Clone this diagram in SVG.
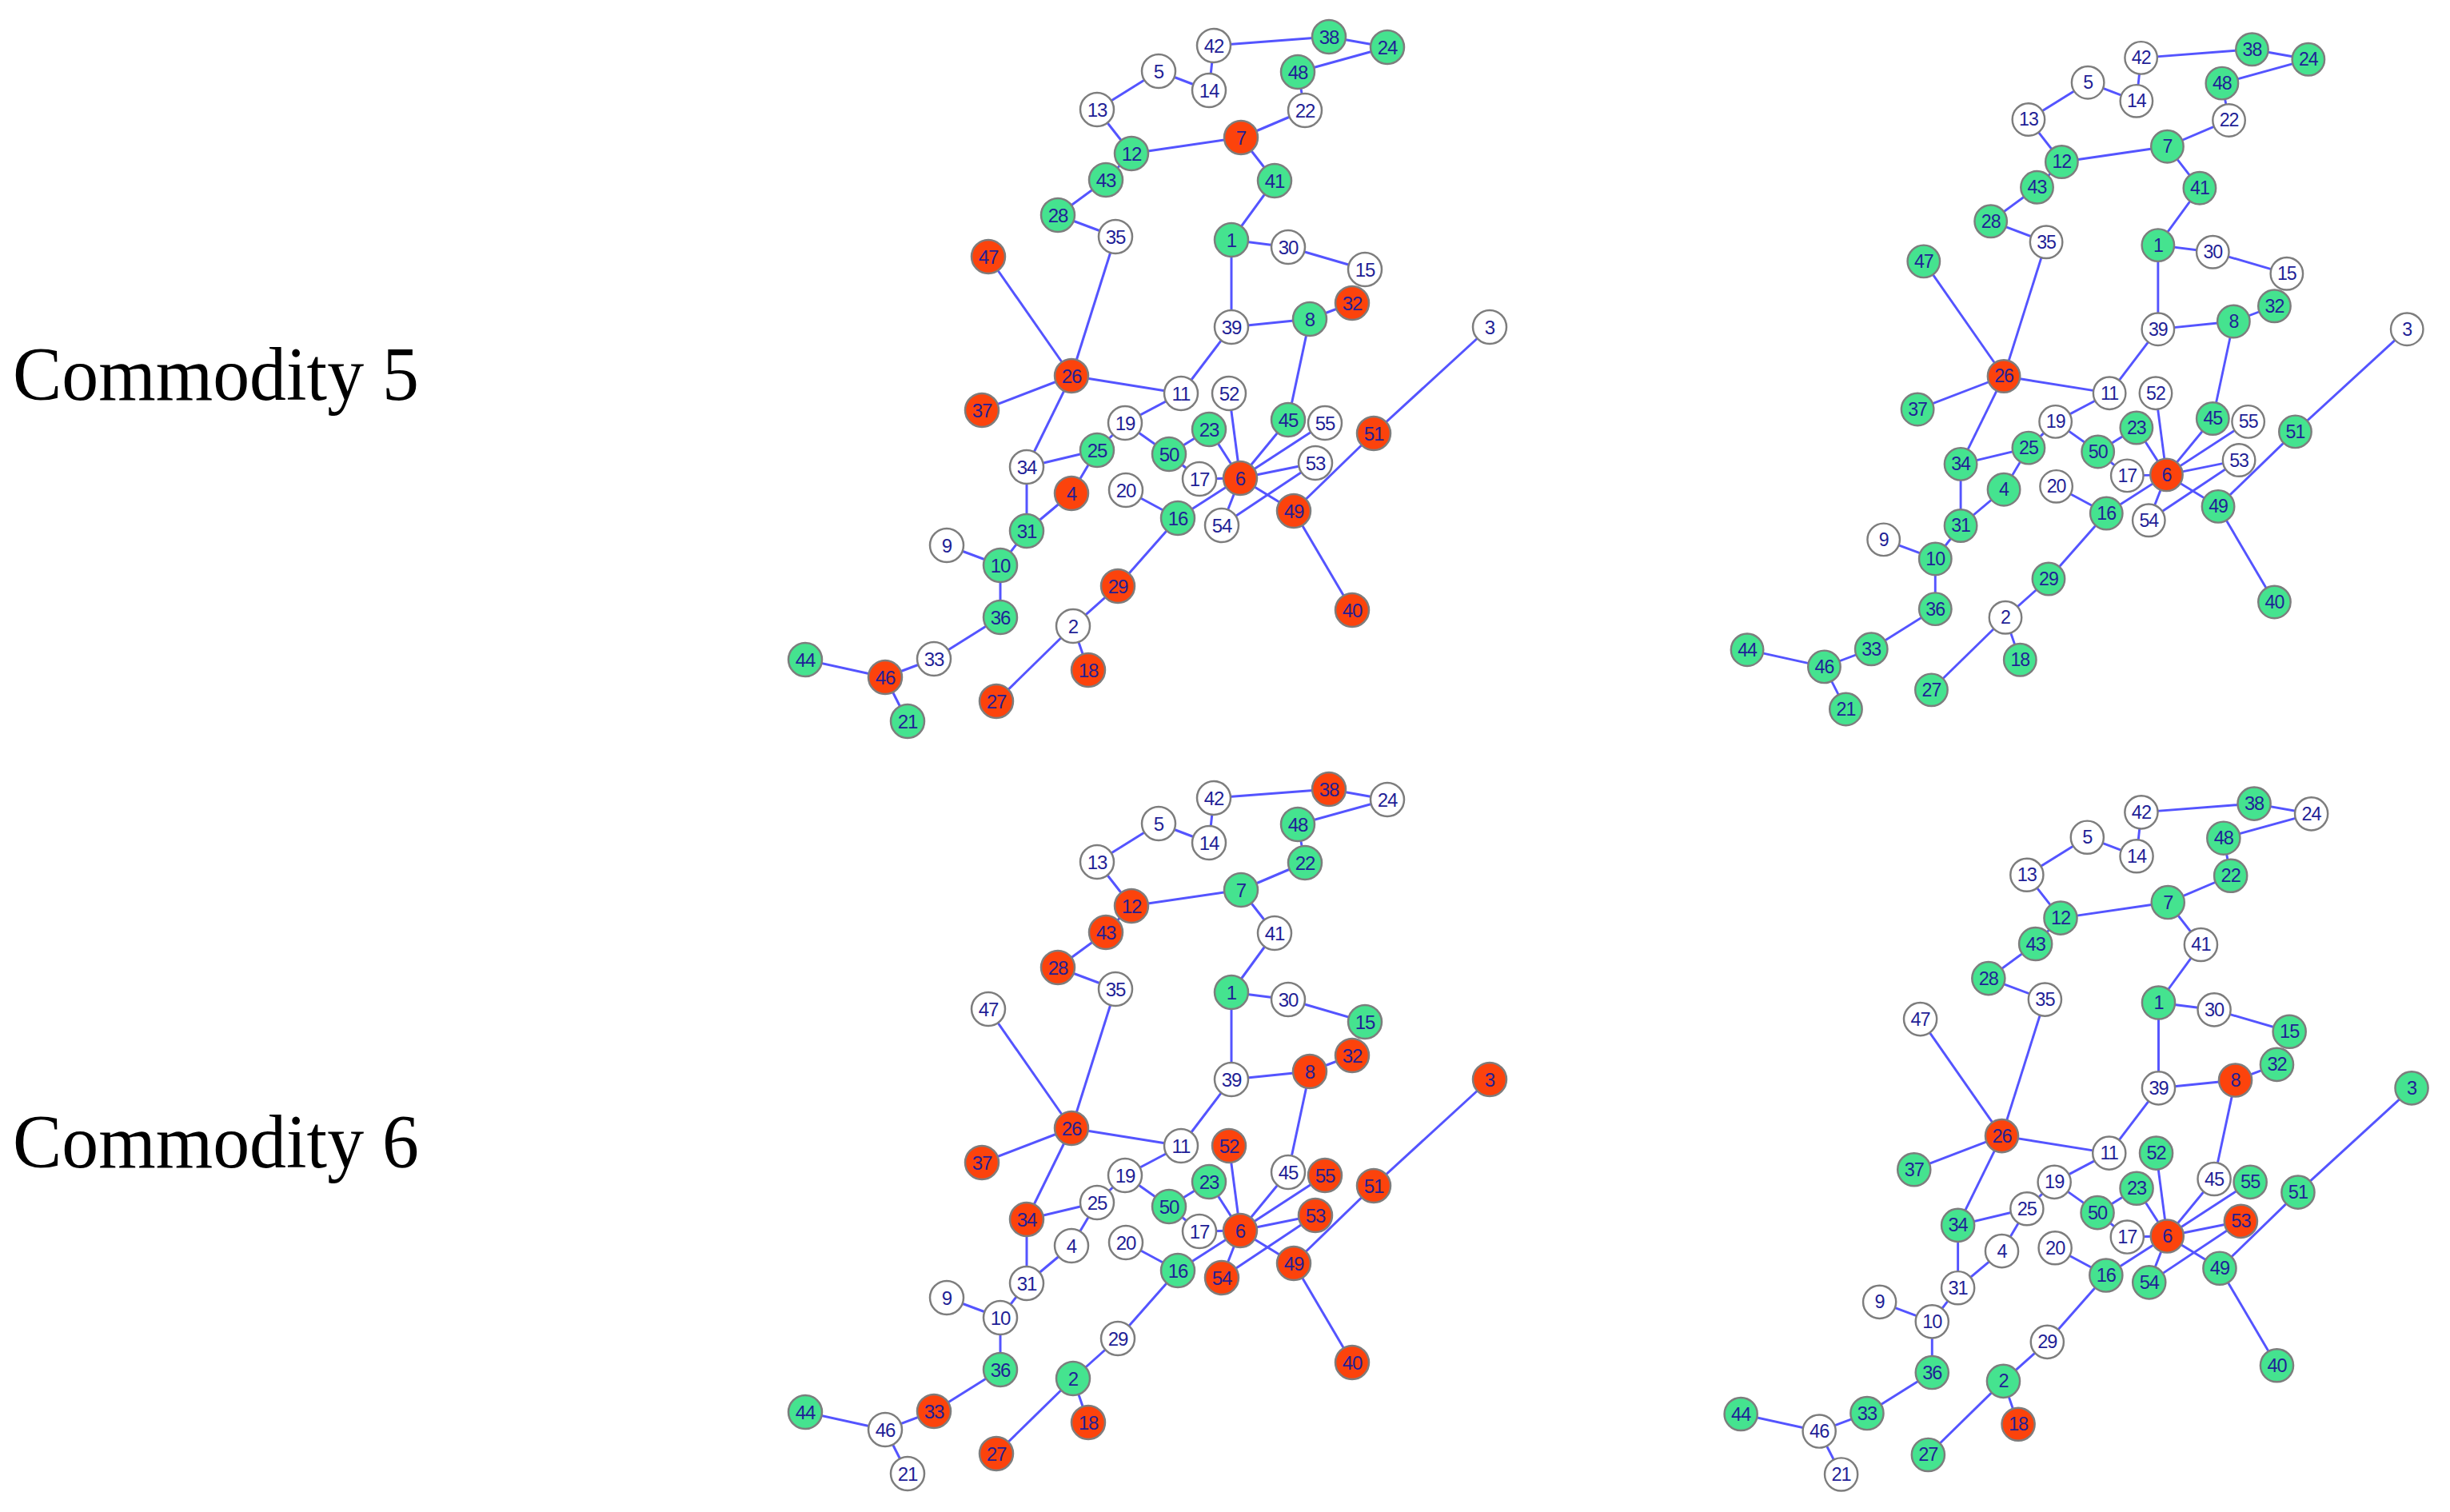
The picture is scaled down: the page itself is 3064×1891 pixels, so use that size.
<svg xmlns="http://www.w3.org/2000/svg" width="3064" height="1891" viewBox="0 0 3064 1891">
<style>
.edges line{stroke:#5454ff;stroke-width:3}
.node circle{stroke:#7d7d7d;stroke-width:2.5}
.g circle{fill:#45e38f}
.r circle{fill:#fc430c}
.w circle{fill:#ffffff}
.node text{font-family:"Liberation Sans",Arial,sans-serif;font-size:24px;fill:#1f1f96;text-anchor:middle;dominant-baseline:central;letter-spacing:-1px}
.title{font-family:"Liberation Serif","Times New Roman",serif;font-size:95px;fill:#000}
</style>
<rect width="3064" height="1891" fill="#fff"/>
<text class="title" x="16" y="500" textLength="508" lengthAdjust="spacingAndGlyphs">Commodity 5</text>
<text class="title" x="16" y="1460" textLength="508" lengthAdjust="spacingAndGlyphs">Commodity 6</text>

<g id="c5-left">
<g id="c5-left-edges" class="edges">
<line x1="1518" y1="57" x2="1662" y2="46"/><line x1="1662" y1="46" x2="1735" y2="59"/><line x1="1735" y1="59" x2="1623" y2="90"/><line x1="1518" y1="57" x2="1512" y2="113"/><line x1="1449" y1="89" x2="1512" y2="113"/><line x1="1449" y1="89" x2="1372" y2="137"/><line x1="1372" y1="137" x2="1415" y2="192"/><line x1="1415" y1="192" x2="1552" y2="172"/><line x1="1552" y1="172" x2="1632" y2="138"/><line x1="1632" y1="138" x2="1623" y2="90"/><line x1="1552" y1="172" x2="1594" y2="226"/><line x1="1594" y1="226" x2="1540" y2="300"/><line x1="1540" y1="300" x2="1611" y2="309"/><line x1="1611" y1="309" x2="1707" y2="337"/><line x1="1540" y1="300" x2="1540" y2="409"/><line x1="1540" y1="409" x2="1638" y2="399"/><line x1="1638" y1="399" x2="1691" y2="379"/><line x1="1638" y1="399" x2="1611" y2="525"/><line x1="1540" y1="409" x2="1477" y2="492"/><line x1="1415" y1="192" x2="1383" y2="225"/><line x1="1383" y1="225" x2="1323" y2="269"/><line x1="1323" y1="269" x2="1395" y2="296"/><line x1="1395" y1="296" x2="1340" y2="470"/><line x1="1236" y1="321" x2="1340" y2="470"/><line x1="1340" y1="470" x2="1477" y2="492"/><line x1="1340" y1="470" x2="1228" y2="513"/><line x1="1340" y1="470" x2="1284" y2="584"/><line x1="1477" y1="492" x2="1407" y2="529"/><line x1="1407" y1="529" x2="1372" y2="563"/><line x1="1407" y1="529" x2="1462" y2="568"/><line x1="1284" y1="584" x2="1372" y2="563"/><line x1="1372" y1="563" x2="1340" y2="617"/><line x1="1284" y1="584" x2="1284" y2="664"/><line x1="1340" y1="617" x2="1284" y2="664"/><line x1="1284" y1="664" x2="1251" y2="707"/><line x1="1184" y1="682" x2="1251" y2="707"/><line x1="1251" y1="707" x2="1251" y2="772"/><line x1="1251" y1="772" x2="1168" y2="824"/><line x1="1168" y1="824" x2="1107" y2="847"/><line x1="1107" y1="847" x2="1007" y2="825"/><line x1="1107" y1="847" x2="1135" y2="902"/><line x1="1408" y1="613" x2="1473" y2="648"/><line x1="1473" y1="648" x2="1551" y2="598"/><line x1="1473" y1="648" x2="1398" y2="733"/><line x1="1398" y1="733" x2="1342" y2="783"/><line x1="1342" y1="783" x2="1246" y2="877"/><line x1="1342" y1="783" x2="1361" y2="838"/><line x1="1462" y1="568" x2="1512" y2="537"/><line x1="1462" y1="568" x2="1500" y2="599"/><line x1="1500" y1="599" x2="1551" y2="598"/><line x1="1512" y1="537" x2="1551" y2="598"/><line x1="1537" y1="492" x2="1551" y2="598"/><line x1="1611" y1="525" x2="1551" y2="598"/><line x1="1657" y1="529" x2="1551" y2="598"/><line x1="1645" y1="579" x2="1551" y2="598"/><line x1="1551" y1="598" x2="1528" y2="657"/><line x1="1551" y1="598" x2="1618" y2="639"/><line x1="1645" y1="579" x2="1528" y2="657"/><line x1="1618" y1="639" x2="1718" y2="542"/><line x1="1718" y1="542" x2="1863" y2="409"/><line x1="1618" y1="639" x2="1691" y2="763"/>
</g>
<g id="a1" class="node g"><circle cx="1540" cy="300" r="21"/><text x="1540" y="300">1</text></g>
<g id="a2" class="node w"><circle cx="1342" cy="783" r="21"/><text x="1342" y="783">2</text></g>
<g id="a3" class="node w"><circle cx="1863" cy="409" r="21"/><text x="1863" y="409">3</text></g>
<g id="a4" class="node r"><circle cx="1340" cy="617" r="21"/><text x="1340" y="617">4</text></g>
<g id="a5" class="node w"><circle cx="1449" cy="89" r="21"/><text x="1449" y="89">5</text></g>
<g id="a6" class="node r"><circle cx="1551" cy="598" r="21"/><text x="1551" y="598">6</text></g>
<g id="a7" class="node r"><circle cx="1552" cy="172" r="21"/><text x="1552" y="172">7</text></g>
<g id="a8" class="node g"><circle cx="1638" cy="399" r="21"/><text x="1638" y="399">8</text></g>
<g id="a9" class="node w"><circle cx="1184" cy="682" r="21"/><text x="1184" y="682">9</text></g>
<g id="a10" class="node g"><circle cx="1251" cy="707" r="21"/><text x="1251" y="707">10</text></g>
<g id="a11" class="node w"><circle cx="1477" cy="492" r="21"/><text x="1477" y="492">11</text></g>
<g id="a12" class="node g"><circle cx="1415" cy="192" r="21"/><text x="1415" y="192">12</text></g>
<g id="a13" class="node w"><circle cx="1372" cy="137" r="21"/><text x="1372" y="137">13</text></g>
<g id="a14" class="node w"><circle cx="1512" cy="113" r="21"/><text x="1512" y="113">14</text></g>
<g id="a15" class="node w"><circle cx="1707" cy="337" r="21"/><text x="1707" y="337">15</text></g>
<g id="a16" class="node g"><circle cx="1473" cy="648" r="21"/><text x="1473" y="648">16</text></g>
<g id="a17" class="node w"><circle cx="1500" cy="599" r="21"/><text x="1500" y="599">17</text></g>
<g id="a18" class="node r"><circle cx="1361" cy="838" r="21"/><text x="1361" y="838">18</text></g>
<g id="a19" class="node w"><circle cx="1407" cy="529" r="21"/><text x="1407" y="529">19</text></g>
<g id="a20" class="node w"><circle cx="1408" cy="613" r="21"/><text x="1408" y="613">20</text></g>
<g id="a21" class="node g"><circle cx="1135" cy="902" r="21"/><text x="1135" y="902">21</text></g>
<g id="a22" class="node w"><circle cx="1632" cy="138" r="21"/><text x="1632" y="138">22</text></g>
<g id="a23" class="node g"><circle cx="1512" cy="537" r="21"/><text x="1512" y="537">23</text></g>
<g id="a24" class="node g"><circle cx="1735" cy="59" r="21"/><text x="1735" y="59">24</text></g>
<g id="a25" class="node g"><circle cx="1372" cy="563" r="21"/><text x="1372" y="563">25</text></g>
<g id="a26" class="node r"><circle cx="1340" cy="470" r="21"/><text x="1340" y="470">26</text></g>
<g id="a27" class="node r"><circle cx="1246" cy="877" r="21"/><text x="1246" y="877">27</text></g>
<g id="a28" class="node g"><circle cx="1323" cy="269" r="21"/><text x="1323" y="269">28</text></g>
<g id="a29" class="node r"><circle cx="1398" cy="733" r="21"/><text x="1398" y="733">29</text></g>
<g id="a30" class="node w"><circle cx="1611" cy="309" r="21"/><text x="1611" y="309">30</text></g>
<g id="a31" class="node g"><circle cx="1284" cy="664" r="21"/><text x="1284" y="664">31</text></g>
<g id="a32" class="node r"><circle cx="1691" cy="379" r="21"/><text x="1691" y="379">32</text></g>
<g id="a33" class="node w"><circle cx="1168" cy="824" r="21"/><text x="1168" y="824">33</text></g>
<g id="a34" class="node w"><circle cx="1284" cy="584" r="21"/><text x="1284" y="584">34</text></g>
<g id="a35" class="node w"><circle cx="1395" cy="296" r="21"/><text x="1395" y="296">35</text></g>
<g id="a36" class="node g"><circle cx="1251" cy="772" r="21"/><text x="1251" y="772">36</text></g>
<g id="a37" class="node r"><circle cx="1228" cy="513" r="21"/><text x="1228" y="513">37</text></g>
<g id="a38" class="node g"><circle cx="1662" cy="46" r="21"/><text x="1662" y="46">38</text></g>
<g id="a39" class="node w"><circle cx="1540" cy="409" r="21"/><text x="1540" y="409">39</text></g>
<g id="a40" class="node r"><circle cx="1691" cy="763" r="21"/><text x="1691" y="763">40</text></g>
<g id="a41" class="node g"><circle cx="1594" cy="226" r="21"/><text x="1594" y="226">41</text></g>
<g id="a42" class="node w"><circle cx="1518" cy="57" r="21"/><text x="1518" y="57">42</text></g>
<g id="a43" class="node g"><circle cx="1383" cy="225" r="21"/><text x="1383" y="225">43</text></g>
<g id="a44" class="node g"><circle cx="1007" cy="825" r="21"/><text x="1007" y="825">44</text></g>
<g id="a45" class="node g"><circle cx="1611" cy="525" r="21"/><text x="1611" y="525">45</text></g>
<g id="a46" class="node r"><circle cx="1107" cy="847" r="21"/><text x="1107" y="847">46</text></g>
<g id="a47" class="node r"><circle cx="1236" cy="321" r="21"/><text x="1236" y="321">47</text></g>
<g id="a48" class="node g"><circle cx="1623" cy="90" r="21"/><text x="1623" y="90">48</text></g>
<g id="a49" class="node r"><circle cx="1618" cy="639" r="21"/><text x="1618" y="639">49</text></g>
<g id="a50" class="node g"><circle cx="1462" cy="568" r="21"/><text x="1462" y="568">50</text></g>
<g id="a51" class="node r"><circle cx="1718" cy="542" r="21"/><text x="1718" y="542">51</text></g>
<g id="a52" class="node w"><circle cx="1537" cy="492" r="21"/><text x="1537" y="492">52</text></g>
<g id="a53" class="node w"><circle cx="1645" cy="579" r="21"/><text x="1645" y="579">53</text></g>
<g id="a54" class="node w"><circle cx="1528" cy="657" r="21"/><text x="1528" y="657">54</text></g>
<g id="a55" class="node w"><circle cx="1657" cy="529" r="21"/><text x="1657" y="529">55</text></g>
</g>

<g id="c5-right" transform="translate(1214.3,17.4) scale(0.964)">
<g id="c5-right-edges" class="edges">
<line x1="1518" y1="57" x2="1662" y2="46"/><line x1="1662" y1="46" x2="1735" y2="59"/><line x1="1735" y1="59" x2="1623" y2="90"/><line x1="1518" y1="57" x2="1512" y2="113"/><line x1="1449" y1="89" x2="1512" y2="113"/><line x1="1449" y1="89" x2="1372" y2="137"/><line x1="1372" y1="137" x2="1415" y2="192"/><line x1="1415" y1="192" x2="1552" y2="172"/><line x1="1552" y1="172" x2="1632" y2="138"/><line x1="1632" y1="138" x2="1623" y2="90"/><line x1="1552" y1="172" x2="1594" y2="226"/><line x1="1594" y1="226" x2="1540" y2="300"/><line x1="1540" y1="300" x2="1611" y2="309"/><line x1="1611" y1="309" x2="1707" y2="337"/><line x1="1540" y1="300" x2="1540" y2="409"/><line x1="1540" y1="409" x2="1638" y2="399"/><line x1="1638" y1="399" x2="1691" y2="379"/><line x1="1638" y1="399" x2="1611" y2="525"/><line x1="1540" y1="409" x2="1477" y2="492"/><line x1="1415" y1="192" x2="1383" y2="225"/><line x1="1383" y1="225" x2="1323" y2="269"/><line x1="1323" y1="269" x2="1395" y2="296"/><line x1="1395" y1="296" x2="1340" y2="470"/><line x1="1236" y1="321" x2="1340" y2="470"/><line x1="1340" y1="470" x2="1477" y2="492"/><line x1="1340" y1="470" x2="1228" y2="513"/><line x1="1340" y1="470" x2="1284" y2="584"/><line x1="1477" y1="492" x2="1407" y2="529"/><line x1="1407" y1="529" x2="1372" y2="563"/><line x1="1407" y1="529" x2="1462" y2="568"/><line x1="1284" y1="584" x2="1372" y2="563"/><line x1="1372" y1="563" x2="1340" y2="617"/><line x1="1284" y1="584" x2="1284" y2="664"/><line x1="1340" y1="617" x2="1284" y2="664"/><line x1="1284" y1="664" x2="1251" y2="707"/><line x1="1184" y1="682" x2="1251" y2="707"/><line x1="1251" y1="707" x2="1251" y2="772"/><line x1="1251" y1="772" x2="1168" y2="824"/><line x1="1168" y1="824" x2="1107" y2="847"/><line x1="1107" y1="847" x2="1007" y2="825"/><line x1="1107" y1="847" x2="1135" y2="902"/><line x1="1408" y1="613" x2="1473" y2="648"/><line x1="1473" y1="648" x2="1551" y2="598"/><line x1="1473" y1="648" x2="1398" y2="733"/><line x1="1398" y1="733" x2="1342" y2="783"/><line x1="1342" y1="783" x2="1246" y2="877"/><line x1="1342" y1="783" x2="1361" y2="838"/><line x1="1462" y1="568" x2="1512" y2="537"/><line x1="1462" y1="568" x2="1500" y2="599"/><line x1="1500" y1="599" x2="1551" y2="598"/><line x1="1512" y1="537" x2="1551" y2="598"/><line x1="1537" y1="492" x2="1551" y2="598"/><line x1="1611" y1="525" x2="1551" y2="598"/><line x1="1657" y1="529" x2="1551" y2="598"/><line x1="1645" y1="579" x2="1551" y2="598"/><line x1="1551" y1="598" x2="1528" y2="657"/><line x1="1551" y1="598" x2="1618" y2="639"/><line x1="1645" y1="579" x2="1528" y2="657"/><line x1="1618" y1="639" x2="1718" y2="542"/><line x1="1718" y1="542" x2="1863" y2="409"/><line x1="1618" y1="639" x2="1691" y2="763"/>
</g>
<g id="b1" class="node g"><circle cx="1540" cy="300" r="21"/><text x="1540" y="300">1</text></g>
<g id="b2" class="node w"><circle cx="1342" cy="783" r="21"/><text x="1342" y="783">2</text></g>
<g id="b3" class="node w"><circle cx="1863" cy="409" r="21"/><text x="1863" y="409">3</text></g>
<g id="b4" class="node g"><circle cx="1340" cy="617" r="21"/><text x="1340" y="617">4</text></g>
<g id="b5" class="node w"><circle cx="1449" cy="89" r="21"/><text x="1449" y="89">5</text></g>
<g id="b6" class="node r"><circle cx="1551" cy="598" r="21"/><text x="1551" y="598">6</text></g>
<g id="b7" class="node g"><circle cx="1552" cy="172" r="21"/><text x="1552" y="172">7</text></g>
<g id="b8" class="node g"><circle cx="1638" cy="399" r="21"/><text x="1638" y="399">8</text></g>
<g id="b9" class="node w"><circle cx="1184" cy="682" r="21"/><text x="1184" y="682">9</text></g>
<g id="b10" class="node g"><circle cx="1251" cy="707" r="21"/><text x="1251" y="707">10</text></g>
<g id="b11" class="node w"><circle cx="1477" cy="492" r="21"/><text x="1477" y="492">11</text></g>
<g id="b12" class="node g"><circle cx="1415" cy="192" r="21"/><text x="1415" y="192">12</text></g>
<g id="b13" class="node w"><circle cx="1372" cy="137" r="21"/><text x="1372" y="137">13</text></g>
<g id="b14" class="node w"><circle cx="1512" cy="113" r="21"/><text x="1512" y="113">14</text></g>
<g id="b15" class="node w"><circle cx="1707" cy="337" r="21"/><text x="1707" y="337">15</text></g>
<g id="b16" class="node g"><circle cx="1473" cy="648" r="21"/><text x="1473" y="648">16</text></g>
<g id="b17" class="node w"><circle cx="1500" cy="599" r="21"/><text x="1500" y="599">17</text></g>
<g id="b18" class="node g"><circle cx="1361" cy="838" r="21"/><text x="1361" y="838">18</text></g>
<g id="b19" class="node w"><circle cx="1407" cy="529" r="21"/><text x="1407" y="529">19</text></g>
<g id="b20" class="node w"><circle cx="1408" cy="613" r="21"/><text x="1408" y="613">20</text></g>
<g id="b21" class="node g"><circle cx="1135" cy="902" r="21"/><text x="1135" y="902">21</text></g>
<g id="b22" class="node w"><circle cx="1632" cy="138" r="21"/><text x="1632" y="138">22</text></g>
<g id="b23" class="node g"><circle cx="1512" cy="537" r="21"/><text x="1512" y="537">23</text></g>
<g id="b24" class="node g"><circle cx="1735" cy="59" r="21"/><text x="1735" y="59">24</text></g>
<g id="b25" class="node g"><circle cx="1372" cy="563" r="21"/><text x="1372" y="563">25</text></g>
<g id="b26" class="node r"><circle cx="1340" cy="470" r="21"/><text x="1340" y="470">26</text></g>
<g id="b27" class="node g"><circle cx="1246" cy="877" r="21"/><text x="1246" y="877">27</text></g>
<g id="b28" class="node g"><circle cx="1323" cy="269" r="21"/><text x="1323" y="269">28</text></g>
<g id="b29" class="node g"><circle cx="1398" cy="733" r="21"/><text x="1398" y="733">29</text></g>
<g id="b30" class="node w"><circle cx="1611" cy="309" r="21"/><text x="1611" y="309">30</text></g>
<g id="b31" class="node g"><circle cx="1284" cy="664" r="21"/><text x="1284" y="664">31</text></g>
<g id="b32" class="node g"><circle cx="1691" cy="379" r="21"/><text x="1691" y="379">32</text></g>
<g id="b33" class="node g"><circle cx="1168" cy="824" r="21"/><text x="1168" y="824">33</text></g>
<g id="b34" class="node g"><circle cx="1284" cy="584" r="21"/><text x="1284" y="584">34</text></g>
<g id="b35" class="node w"><circle cx="1395" cy="296" r="21"/><text x="1395" y="296">35</text></g>
<g id="b36" class="node g"><circle cx="1251" cy="772" r="21"/><text x="1251" y="772">36</text></g>
<g id="b37" class="node g"><circle cx="1228" cy="513" r="21"/><text x="1228" y="513">37</text></g>
<g id="b38" class="node g"><circle cx="1662" cy="46" r="21"/><text x="1662" y="46">38</text></g>
<g id="b39" class="node w"><circle cx="1540" cy="409" r="21"/><text x="1540" y="409">39</text></g>
<g id="b40" class="node g"><circle cx="1691" cy="763" r="21"/><text x="1691" y="763">40</text></g>
<g id="b41" class="node g"><circle cx="1594" cy="226" r="21"/><text x="1594" y="226">41</text></g>
<g id="b42" class="node w"><circle cx="1518" cy="57" r="21"/><text x="1518" y="57">42</text></g>
<g id="b43" class="node g"><circle cx="1383" cy="225" r="21"/><text x="1383" y="225">43</text></g>
<g id="b44" class="node g"><circle cx="1007" cy="825" r="21"/><text x="1007" y="825">44</text></g>
<g id="b45" class="node g"><circle cx="1611" cy="525" r="21"/><text x="1611" y="525">45</text></g>
<g id="b46" class="node g"><circle cx="1107" cy="847" r="21"/><text x="1107" y="847">46</text></g>
<g id="b47" class="node g"><circle cx="1236" cy="321" r="21"/><text x="1236" y="321">47</text></g>
<g id="b48" class="node g"><circle cx="1623" cy="90" r="21"/><text x="1623" y="90">48</text></g>
<g id="b49" class="node g"><circle cx="1618" cy="639" r="21"/><text x="1618" y="639">49</text></g>
<g id="b50" class="node g"><circle cx="1462" cy="568" r="21"/><text x="1462" y="568">50</text></g>
<g id="b51" class="node g"><circle cx="1718" cy="542" r="21"/><text x="1718" y="542">51</text></g>
<g id="b52" class="node w"><circle cx="1537" cy="492" r="21"/><text x="1537" y="492">52</text></g>
<g id="b53" class="node w"><circle cx="1645" cy="579" r="21"/><text x="1645" y="579">53</text></g>
<g id="b54" class="node w"><circle cx="1528" cy="657" r="21"/><text x="1528" y="657">54</text></g>
<g id="b55" class="node w"><circle cx="1657" cy="529" r="21"/><text x="1657" y="529">55</text></g>
</g>

<g id="c6-left" transform="translate(0,941)">
<g id="c6-left-edges" class="edges">
<line x1="1518" y1="57" x2="1662" y2="46"/><line x1="1662" y1="46" x2="1735" y2="59"/><line x1="1735" y1="59" x2="1623" y2="90"/><line x1="1518" y1="57" x2="1512" y2="113"/><line x1="1449" y1="89" x2="1512" y2="113"/><line x1="1449" y1="89" x2="1372" y2="137"/><line x1="1372" y1="137" x2="1415" y2="192"/><line x1="1415" y1="192" x2="1552" y2="172"/><line x1="1552" y1="172" x2="1632" y2="138"/><line x1="1632" y1="138" x2="1623" y2="90"/><line x1="1552" y1="172" x2="1594" y2="226"/><line x1="1594" y1="226" x2="1540" y2="300"/><line x1="1540" y1="300" x2="1611" y2="309"/><line x1="1611" y1="309" x2="1707" y2="337"/><line x1="1540" y1="300" x2="1540" y2="409"/><line x1="1540" y1="409" x2="1638" y2="399"/><line x1="1638" y1="399" x2="1691" y2="379"/><line x1="1638" y1="399" x2="1611" y2="525"/><line x1="1540" y1="409" x2="1477" y2="492"/><line x1="1415" y1="192" x2="1383" y2="225"/><line x1="1383" y1="225" x2="1323" y2="269"/><line x1="1323" y1="269" x2="1395" y2="296"/><line x1="1395" y1="296" x2="1340" y2="470"/><line x1="1236" y1="321" x2="1340" y2="470"/><line x1="1340" y1="470" x2="1477" y2="492"/><line x1="1340" y1="470" x2="1228" y2="513"/><line x1="1340" y1="470" x2="1284" y2="584"/><line x1="1477" y1="492" x2="1407" y2="529"/><line x1="1407" y1="529" x2="1372" y2="563"/><line x1="1407" y1="529" x2="1462" y2="568"/><line x1="1284" y1="584" x2="1372" y2="563"/><line x1="1372" y1="563" x2="1340" y2="617"/><line x1="1284" y1="584" x2="1284" y2="664"/><line x1="1340" y1="617" x2="1284" y2="664"/><line x1="1284" y1="664" x2="1251" y2="707"/><line x1="1184" y1="682" x2="1251" y2="707"/><line x1="1251" y1="707" x2="1251" y2="772"/><line x1="1251" y1="772" x2="1168" y2="824"/><line x1="1168" y1="824" x2="1107" y2="847"/><line x1="1107" y1="847" x2="1007" y2="825"/><line x1="1107" y1="847" x2="1135" y2="902"/><line x1="1408" y1="613" x2="1473" y2="648"/><line x1="1473" y1="648" x2="1551" y2="598"/><line x1="1473" y1="648" x2="1398" y2="733"/><line x1="1398" y1="733" x2="1342" y2="783"/><line x1="1342" y1="783" x2="1246" y2="877"/><line x1="1342" y1="783" x2="1361" y2="838"/><line x1="1462" y1="568" x2="1512" y2="537"/><line x1="1462" y1="568" x2="1500" y2="599"/><line x1="1500" y1="599" x2="1551" y2="598"/><line x1="1512" y1="537" x2="1551" y2="598"/><line x1="1537" y1="492" x2="1551" y2="598"/><line x1="1611" y1="525" x2="1551" y2="598"/><line x1="1657" y1="529" x2="1551" y2="598"/><line x1="1645" y1="579" x2="1551" y2="598"/><line x1="1551" y1="598" x2="1528" y2="657"/><line x1="1551" y1="598" x2="1618" y2="639"/><line x1="1645" y1="579" x2="1528" y2="657"/><line x1="1618" y1="639" x2="1718" y2="542"/><line x1="1718" y1="542" x2="1863" y2="409"/><line x1="1618" y1="639" x2="1691" y2="763"/>
</g>
<g id="c1" class="node g"><circle cx="1540" cy="300" r="21"/><text x="1540" y="300">1</text></g>
<g id="c2" class="node g"><circle cx="1342" cy="783" r="21"/><text x="1342" y="783">2</text></g>
<g id="c3" class="node r"><circle cx="1863" cy="409" r="21"/><text x="1863" y="409">3</text></g>
<g id="c4" class="node w"><circle cx="1340" cy="617" r="21"/><text x="1340" y="617">4</text></g>
<g id="c5" class="node w"><circle cx="1449" cy="89" r="21"/><text x="1449" y="89">5</text></g>
<g id="c6" class="node r"><circle cx="1551" cy="598" r="21"/><text x="1551" y="598">6</text></g>
<g id="c7" class="node g"><circle cx="1552" cy="172" r="21"/><text x="1552" y="172">7</text></g>
<g id="c8" class="node r"><circle cx="1638" cy="399" r="21"/><text x="1638" y="399">8</text></g>
<g id="c9" class="node w"><circle cx="1184" cy="682" r="21"/><text x="1184" y="682">9</text></g>
<g id="c10" class="node w"><circle cx="1251" cy="707" r="21"/><text x="1251" y="707">10</text></g>
<g id="c11" class="node w"><circle cx="1477" cy="492" r="21"/><text x="1477" y="492">11</text></g>
<g id="c12" class="node r"><circle cx="1415" cy="192" r="21"/><text x="1415" y="192">12</text></g>
<g id="c13" class="node w"><circle cx="1372" cy="137" r="21"/><text x="1372" y="137">13</text></g>
<g id="c14" class="node w"><circle cx="1512" cy="113" r="21"/><text x="1512" y="113">14</text></g>
<g id="c15" class="node g"><circle cx="1707" cy="337" r="21"/><text x="1707" y="337">15</text></g>
<g id="c16" class="node g"><circle cx="1473" cy="648" r="21"/><text x="1473" y="648">16</text></g>
<g id="c17" class="node w"><circle cx="1500" cy="599" r="21"/><text x="1500" y="599">17</text></g>
<g id="c18" class="node r"><circle cx="1361" cy="838" r="21"/><text x="1361" y="838">18</text></g>
<g id="c19" class="node w"><circle cx="1407" cy="529" r="21"/><text x="1407" y="529">19</text></g>
<g id="c20" class="node w"><circle cx="1408" cy="613" r="21"/><text x="1408" y="613">20</text></g>
<g id="c21" class="node w"><circle cx="1135" cy="902" r="21"/><text x="1135" y="902">21</text></g>
<g id="c22" class="node g"><circle cx="1632" cy="138" r="21"/><text x="1632" y="138">22</text></g>
<g id="c23" class="node g"><circle cx="1512" cy="537" r="21"/><text x="1512" y="537">23</text></g>
<g id="c24" class="node w"><circle cx="1735" cy="59" r="21"/><text x="1735" y="59">24</text></g>
<g id="c25" class="node w"><circle cx="1372" cy="563" r="21"/><text x="1372" y="563">25</text></g>
<g id="c26" class="node r"><circle cx="1340" cy="470" r="21"/><text x="1340" y="470">26</text></g>
<g id="c27" class="node r"><circle cx="1246" cy="877" r="21"/><text x="1246" y="877">27</text></g>
<g id="c28" class="node r"><circle cx="1323" cy="269" r="21"/><text x="1323" y="269">28</text></g>
<g id="c29" class="node w"><circle cx="1398" cy="733" r="21"/><text x="1398" y="733">29</text></g>
<g id="c30" class="node w"><circle cx="1611" cy="309" r="21"/><text x="1611" y="309">30</text></g>
<g id="c31" class="node w"><circle cx="1284" cy="664" r="21"/><text x="1284" y="664">31</text></g>
<g id="c32" class="node r"><circle cx="1691" cy="379" r="21"/><text x="1691" y="379">32</text></g>
<g id="c33" class="node r"><circle cx="1168" cy="824" r="21"/><text x="1168" y="824">33</text></g>
<g id="c34" class="node r"><circle cx="1284" cy="584" r="21"/><text x="1284" y="584">34</text></g>
<g id="c35" class="node w"><circle cx="1395" cy="296" r="21"/><text x="1395" y="296">35</text></g>
<g id="c36" class="node g"><circle cx="1251" cy="772" r="21"/><text x="1251" y="772">36</text></g>
<g id="c37" class="node r"><circle cx="1228" cy="513" r="21"/><text x="1228" y="513">37</text></g>
<g id="c38" class="node r"><circle cx="1662" cy="46" r="21"/><text x="1662" y="46">38</text></g>
<g id="c39" class="node w"><circle cx="1540" cy="409" r="21"/><text x="1540" y="409">39</text></g>
<g id="c40" class="node r"><circle cx="1691" cy="763" r="21"/><text x="1691" y="763">40</text></g>
<g id="c41" class="node w"><circle cx="1594" cy="226" r="21"/><text x="1594" y="226">41</text></g>
<g id="c42" class="node w"><circle cx="1518" cy="57" r="21"/><text x="1518" y="57">42</text></g>
<g id="c43" class="node r"><circle cx="1383" cy="225" r="21"/><text x="1383" y="225">43</text></g>
<g id="c44" class="node g"><circle cx="1007" cy="825" r="21"/><text x="1007" y="825">44</text></g>
<g id="c45" class="node w"><circle cx="1611" cy="525" r="21"/><text x="1611" y="525">45</text></g>
<g id="c46" class="node w"><circle cx="1107" cy="847" r="21"/><text x="1107" y="847">46</text></g>
<g id="c47" class="node w"><circle cx="1236" cy="321" r="21"/><text x="1236" y="321">47</text></g>
<g id="c48" class="node g"><circle cx="1623" cy="90" r="21"/><text x="1623" y="90">48</text></g>
<g id="c49" class="node r"><circle cx="1618" cy="639" r="21"/><text x="1618" y="639">49</text></g>
<g id="c50" class="node g"><circle cx="1462" cy="568" r="21"/><text x="1462" y="568">50</text></g>
<g id="c51" class="node r"><circle cx="1718" cy="542" r="21"/><text x="1718" y="542">51</text></g>
<g id="c52" class="node r"><circle cx="1537" cy="492" r="21"/><text x="1537" y="492">52</text></g>
<g id="c53" class="node r"><circle cx="1645" cy="579" r="21"/><text x="1645" y="579">53</text></g>
<g id="c54" class="node r"><circle cx="1528" cy="657" r="21"/><text x="1528" y="657">54</text></g>
<g id="c55" class="node r"><circle cx="1657" cy="529" r="21"/><text x="1657" y="529">55</text></g>
</g>

<g id="c6-right" transform="translate(1190.3,960) scale(0.98)">
<g id="c6-right-edges" class="edges">
<line x1="1518" y1="57" x2="1662" y2="46"/><line x1="1662" y1="46" x2="1735" y2="59"/><line x1="1735" y1="59" x2="1623" y2="90"/><line x1="1518" y1="57" x2="1512" y2="113"/><line x1="1449" y1="89" x2="1512" y2="113"/><line x1="1449" y1="89" x2="1372" y2="137"/><line x1="1372" y1="137" x2="1415" y2="192"/><line x1="1415" y1="192" x2="1552" y2="172"/><line x1="1552" y1="172" x2="1632" y2="138"/><line x1="1632" y1="138" x2="1623" y2="90"/><line x1="1552" y1="172" x2="1594" y2="226"/><line x1="1594" y1="226" x2="1540" y2="300"/><line x1="1540" y1="300" x2="1611" y2="309"/><line x1="1611" y1="309" x2="1707" y2="337"/><line x1="1540" y1="300" x2="1540" y2="409"/><line x1="1540" y1="409" x2="1638" y2="399"/><line x1="1638" y1="399" x2="1691" y2="379"/><line x1="1638" y1="399" x2="1611" y2="525"/><line x1="1540" y1="409" x2="1477" y2="492"/><line x1="1415" y1="192" x2="1383" y2="225"/><line x1="1383" y1="225" x2="1323" y2="269"/><line x1="1323" y1="269" x2="1395" y2="296"/><line x1="1395" y1="296" x2="1340" y2="470"/><line x1="1236" y1="321" x2="1340" y2="470"/><line x1="1340" y1="470" x2="1477" y2="492"/><line x1="1340" y1="470" x2="1228" y2="513"/><line x1="1340" y1="470" x2="1284" y2="584"/><line x1="1477" y1="492" x2="1407" y2="529"/><line x1="1407" y1="529" x2="1372" y2="563"/><line x1="1407" y1="529" x2="1462" y2="568"/><line x1="1284" y1="584" x2="1372" y2="563"/><line x1="1372" y1="563" x2="1340" y2="617"/><line x1="1284" y1="584" x2="1284" y2="664"/><line x1="1340" y1="617" x2="1284" y2="664"/><line x1="1284" y1="664" x2="1251" y2="707"/><line x1="1184" y1="682" x2="1251" y2="707"/><line x1="1251" y1="707" x2="1251" y2="772"/><line x1="1251" y1="772" x2="1168" y2="824"/><line x1="1168" y1="824" x2="1107" y2="847"/><line x1="1107" y1="847" x2="1007" y2="825"/><line x1="1107" y1="847" x2="1135" y2="902"/><line x1="1408" y1="613" x2="1473" y2="648"/><line x1="1473" y1="648" x2="1551" y2="598"/><line x1="1473" y1="648" x2="1398" y2="733"/><line x1="1398" y1="733" x2="1342" y2="783"/><line x1="1342" y1="783" x2="1246" y2="877"/><line x1="1342" y1="783" x2="1361" y2="838"/><line x1="1462" y1="568" x2="1512" y2="537"/><line x1="1462" y1="568" x2="1500" y2="599"/><line x1="1500" y1="599" x2="1551" y2="598"/><line x1="1512" y1="537" x2="1551" y2="598"/><line x1="1537" y1="492" x2="1551" y2="598"/><line x1="1611" y1="525" x2="1551" y2="598"/><line x1="1657" y1="529" x2="1551" y2="598"/><line x1="1645" y1="579" x2="1551" y2="598"/><line x1="1551" y1="598" x2="1528" y2="657"/><line x1="1551" y1="598" x2="1618" y2="639"/><line x1="1645" y1="579" x2="1528" y2="657"/><line x1="1618" y1="639" x2="1718" y2="542"/><line x1="1718" y1="542" x2="1863" y2="409"/><line x1="1618" y1="639" x2="1691" y2="763"/>
</g>
<g id="d1" class="node g"><circle cx="1540" cy="300" r="21"/><text x="1540" y="300">1</text></g>
<g id="d2" class="node g"><circle cx="1342" cy="783" r="21"/><text x="1342" y="783">2</text></g>
<g id="d3" class="node g"><circle cx="1863" cy="409" r="21"/><text x="1863" y="409">3</text></g>
<g id="d4" class="node w"><circle cx="1340" cy="617" r="21"/><text x="1340" y="617">4</text></g>
<g id="d5" class="node w"><circle cx="1449" cy="89" r="21"/><text x="1449" y="89">5</text></g>
<g id="d6" class="node r"><circle cx="1551" cy="598" r="21"/><text x="1551" y="598">6</text></g>
<g id="d7" class="node g"><circle cx="1552" cy="172" r="21"/><text x="1552" y="172">7</text></g>
<g id="d8" class="node r"><circle cx="1638" cy="399" r="21"/><text x="1638" y="399">8</text></g>
<g id="d9" class="node w"><circle cx="1184" cy="682" r="21"/><text x="1184" y="682">9</text></g>
<g id="d10" class="node w"><circle cx="1251" cy="707" r="21"/><text x="1251" y="707">10</text></g>
<g id="d11" class="node w"><circle cx="1477" cy="492" r="21"/><text x="1477" y="492">11</text></g>
<g id="d12" class="node g"><circle cx="1415" cy="192" r="21"/><text x="1415" y="192">12</text></g>
<g id="d13" class="node w"><circle cx="1372" cy="137" r="21"/><text x="1372" y="137">13</text></g>
<g id="d14" class="node w"><circle cx="1512" cy="113" r="21"/><text x="1512" y="113">14</text></g>
<g id="d15" class="node g"><circle cx="1707" cy="337" r="21"/><text x="1707" y="337">15</text></g>
<g id="d16" class="node g"><circle cx="1473" cy="648" r="21"/><text x="1473" y="648">16</text></g>
<g id="d17" class="node w"><circle cx="1500" cy="599" r="21"/><text x="1500" y="599">17</text></g>
<g id="d18" class="node r"><circle cx="1361" cy="838" r="21"/><text x="1361" y="838">18</text></g>
<g id="d19" class="node w"><circle cx="1407" cy="529" r="21"/><text x="1407" y="529">19</text></g>
<g id="d20" class="node w"><circle cx="1408" cy="613" r="21"/><text x="1408" y="613">20</text></g>
<g id="d21" class="node w"><circle cx="1135" cy="902" r="21"/><text x="1135" y="902">21</text></g>
<g id="d22" class="node g"><circle cx="1632" cy="138" r="21"/><text x="1632" y="138">22</text></g>
<g id="d23" class="node g"><circle cx="1512" cy="537" r="21"/><text x="1512" y="537">23</text></g>
<g id="d24" class="node w"><circle cx="1735" cy="59" r="21"/><text x="1735" y="59">24</text></g>
<g id="d25" class="node w"><circle cx="1372" cy="563" r="21"/><text x="1372" y="563">25</text></g>
<g id="d26" class="node r"><circle cx="1340" cy="470" r="21"/><text x="1340" y="470">26</text></g>
<g id="d27" class="node g"><circle cx="1246" cy="877" r="21"/><text x="1246" y="877">27</text></g>
<g id="d28" class="node g"><circle cx="1323" cy="269" r="21"/><text x="1323" y="269">28</text></g>
<g id="d29" class="node w"><circle cx="1398" cy="733" r="21"/><text x="1398" y="733">29</text></g>
<g id="d30" class="node w"><circle cx="1611" cy="309" r="21"/><text x="1611" y="309">30</text></g>
<g id="d31" class="node w"><circle cx="1284" cy="664" r="21"/><text x="1284" y="664">31</text></g>
<g id="d32" class="node g"><circle cx="1691" cy="379" r="21"/><text x="1691" y="379">32</text></g>
<g id="d33" class="node g"><circle cx="1168" cy="824" r="21"/><text x="1168" y="824">33</text></g>
<g id="d34" class="node g"><circle cx="1284" cy="584" r="21"/><text x="1284" y="584">34</text></g>
<g id="d35" class="node w"><circle cx="1395" cy="296" r="21"/><text x="1395" y="296">35</text></g>
<g id="d36" class="node g"><circle cx="1251" cy="772" r="21"/><text x="1251" y="772">36</text></g>
<g id="d37" class="node g"><circle cx="1228" cy="513" r="21"/><text x="1228" y="513">37</text></g>
<g id="d38" class="node g"><circle cx="1662" cy="46" r="21"/><text x="1662" y="46">38</text></g>
<g id="d39" class="node w"><circle cx="1540" cy="409" r="21"/><text x="1540" y="409">39</text></g>
<g id="d40" class="node g"><circle cx="1691" cy="763" r="21"/><text x="1691" y="763">40</text></g>
<g id="d41" class="node w"><circle cx="1594" cy="226" r="21"/><text x="1594" y="226">41</text></g>
<g id="d42" class="node w"><circle cx="1518" cy="57" r="21"/><text x="1518" y="57">42</text></g>
<g id="d43" class="node g"><circle cx="1383" cy="225" r="21"/><text x="1383" y="225">43</text></g>
<g id="d44" class="node g"><circle cx="1007" cy="825" r="21"/><text x="1007" y="825">44</text></g>
<g id="d45" class="node w"><circle cx="1611" cy="525" r="21"/><text x="1611" y="525">45</text></g>
<g id="d46" class="node w"><circle cx="1107" cy="847" r="21"/><text x="1107" y="847">46</text></g>
<g id="d47" class="node w"><circle cx="1236" cy="321" r="21"/><text x="1236" y="321">47</text></g>
<g id="d48" class="node g"><circle cx="1623" cy="90" r="21"/><text x="1623" y="90">48</text></g>
<g id="d49" class="node g"><circle cx="1618" cy="639" r="21"/><text x="1618" y="639">49</text></g>
<g id="d50" class="node g"><circle cx="1462" cy="568" r="21"/><text x="1462" y="568">50</text></g>
<g id="d51" class="node g"><circle cx="1718" cy="542" r="21"/><text x="1718" y="542">51</text></g>
<g id="d52" class="node g"><circle cx="1537" cy="492" r="21"/><text x="1537" y="492">52</text></g>
<g id="d53" class="node r"><circle cx="1645" cy="579" r="21"/><text x="1645" y="579">53</text></g>
<g id="d54" class="node g"><circle cx="1528" cy="657" r="21"/><text x="1528" y="657">54</text></g>
<g id="d55" class="node g"><circle cx="1657" cy="529" r="21"/><text x="1657" y="529">55</text></g>
</g>
</svg>
